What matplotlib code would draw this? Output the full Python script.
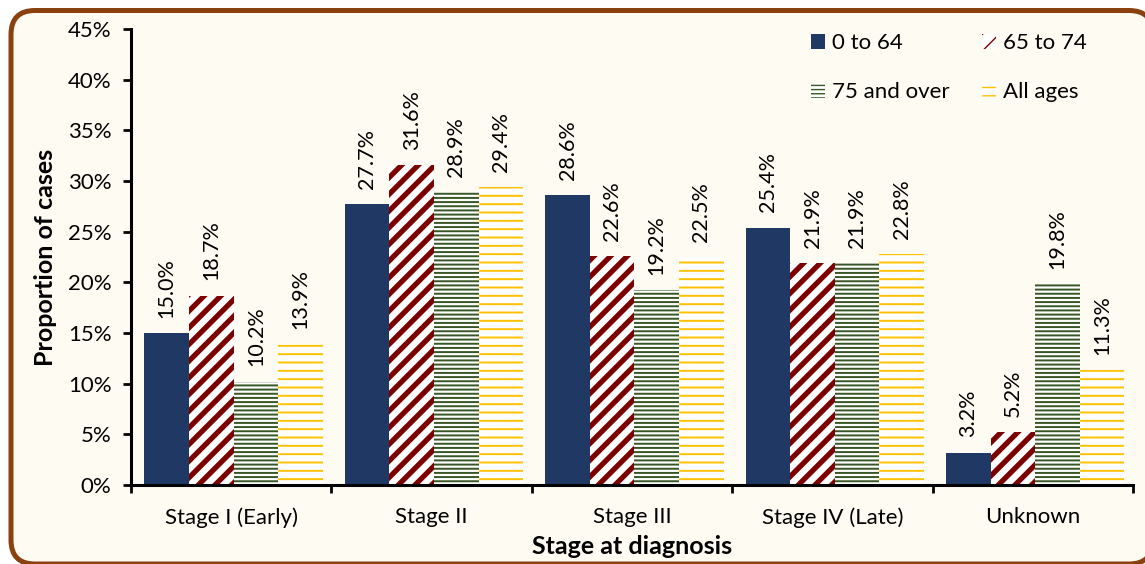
import matplotlib
matplotlib.use('Agg')
import matplotlib.pyplot as plt
import numpy as np
from matplotlib.patches import FancyBboxPatch, Patch
from matplotlib.transforms import IdentityTransform

stages = ['Stage I (Early)', 'Stage II', 'Stage III', 'Stage IV (Late)', 'Unknown']
age_0_64 = [15.0, 27.7, 28.6, 25.4, 3.2]
age_65_74 = [18.7, 31.6, 22.6, 21.9, 5.2]
age_75_over = [10.2, 28.9, 19.2, 21.9, 19.8]
all_ages = [13.9, 29.4, 22.5, 22.8, 11.3]
series_names = ['0 to 64', '65 to 74', '75 and over', 'All ages']

CREAM = '#FEFBF3'
plt.rcParams['font.family'] = ['Lato', 'DejaVu Sans']

fig = plt.figure(figsize=(11.45, 5.64), dpi=100, facecolor='white')

# rounded brown frame round the whole chart
frame = FancyBboxPatch((11, 0), 1142, 553.5, boxstyle='round,pad=0,rounding_size=24',
                       transform=IdentityTransform(), facecolor=CREAM,
                       edgecolor='#8B4010', linewidth=3.6, zorder=-10)
fig.patches.append(frame)

ax = fig.add_axes([131 / 1145, 1 - 485 / 564, (1133 - 131) / 1145, (485 - 29) / 564])
ax.set_facecolor(CREAM)
ax.set_zorder(5)

x = np.arange(len(stages))
w = 0.2225
styles = [
    dict(facecolor='#203864', edgecolor='#203864', hatch=None, hlw=1.0),
    dict(facecolor='white', edgecolor='#7B0000', hatch='//', hlw=3.8),
    dict(facecolor='white', edgecolor='#375623', hatch='----', hlw=1.4),
    dict(facecolor='white', edgecolor='#FFC000', hatch='--', hlw=1.4),
]
data = [age_0_64, age_65_74, age_75_over, all_ages]

handles = []
for i, (vals, st) in enumerate(zip(data, styles)):
    with plt.rc_context({'hatch.linewidth': st['hlw']}):
        bars = ax.bar(x + (i - 1.5) * w + 0.012, vals, w, facecolor=st['facecolor'],
                      edgecolor=st['edgecolor'], hatch=st['hatch'], linewidth=0)
        for b in bars:
            if hasattr(b, 'set_hatch_linewidth'):
                b.set_hatch_linewidth(st['hlw'])
        h = Patch(facecolor=st['facecolor'], edgecolor=st['edgecolor'],
                  hatch=st['hatch'], linewidth=0)
        if hasattr(h, 'set_hatch_linewidth'):
            h.set_hatch_linewidth(st['hlw'])
    handles.append(h)
    for b, v in zip(bars, vals):
        ax.annotate(f'{v:.1f}%', (b.get_x() + b.get_width() / 2, v),
                    xytext=(0, 11), textcoords='offset points', rotation=90,
                    ha='center', va='bottom', fontsize=15.5)

ax.set_xlim(-0.5, 4.5)
ax.set_ylim(0, 45)
ax.set_yticks(np.arange(0, 46, 5))
ax.set_yticklabels([f'{t}%' for t in range(0, 46, 5)], fontsize=16)
ax.set_xticks(x)
ax.set_xticklabels(stages, fontsize=16)
ax.set_xticks(np.arange(-0.5, 4.6, 1), minor=True)
ax.tick_params(axis='x', which='major', length=0, pad=16)
ax.tick_params(axis='x', which='minor', length=6, width=2, direction='out')
ax.tick_params(axis='y', length=6, width=2, direction='out', pad=8)

for s in ['top', 'right']:
    ax.spines[s].set_visible(False)
for s in ['left', 'bottom']:
    ax.spines[s].set_linewidth(2.2)

ax.set_ylabel('Proportion of cases', fontsize=18, fontweight='bold', labelpad=8)
ax.set_xlabel('Stage at diagnosis', fontsize=18, fontweight='bold', labelpad=5)

# matplotlib fills legend columns first, so reorder to get row-wise entries
order = [0, 2, 1, 3]
ax.legend([handles[k] for k in order], [series_names[k] for k in order], ncol=2,
          frameon=False, fontsize=16, loc='upper left',
          bbox_to_anchor=(811 / 1145, 1 - 33 / 564), bbox_transform=fig.transFigure,
          handlelength=0.65, handleheight=0.65, handletextpad=0.3,
          columnspacing=1.45, labelspacing=1.3, borderpad=0, borderaxespad=0)

fig.savefig('out.png', dpi=100, facecolor='white')
